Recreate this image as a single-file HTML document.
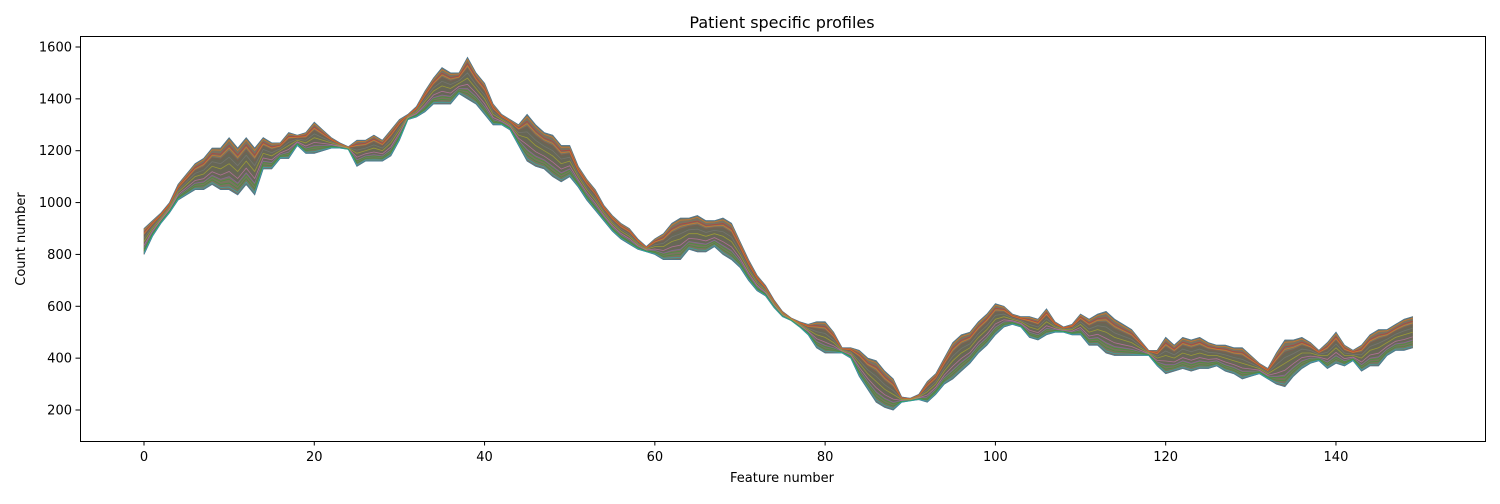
<!DOCTYPE html>
<html><head><meta charset="utf-8"><style>
body{margin:0;background:#fff;font-family:"DejaVu Sans","Liberation Sans",sans-serif}
svg text{font-family:"DejaVu Sans","Liberation Sans",sans-serif;fill:#000}
</style></head><body>
<svg id="chart" width="1500" height="500" viewBox="0 0 1500 500">
<text x="782" y="28" font-size="16" text-anchor="middle">Patient specific profiles</text>
<g id="marks"></g>
<rect x="80.5" y="36.5" width="1405" height="405" fill="none" stroke="#000" stroke-width="1"/>
<g id="xt"></g>
<g id="yt"></g>
<text x="782" y="482" font-size="13" text-anchor="middle">Feature number</text>
<text x="25" y="239" font-size="13" text-anchor="middle" transform="rotate(-90 25 239)">Count number</text>
</svg>
<script>
const meanValues=[850,900,940,980,1040,1070,1100,1110,1140,1130,1150,1120,1160,1120,1190,1180,1200,1220,1240,1230,1250,1240,1230,1220,1210,1190,1200,1210,1200,1230,1280,1330,1350,1390,1430,1450,1440,1460,1480,1440,1400,1340,1320,1300,1260,1250,1220,1200,1180,1150,1160,1100,1050,1010,960,920,890,870,840,820,830,830,850,860,880,880,870,880,870,850,800,740,690,660,610,570,550,530,510,490,480,460,430,420,380,340,310,280,260,240,240,250,270,300,350,390,420,440,480,510,550,560,550,540,520,510,540,520,510,510,530,500,510,500,480,470,460,440,420,400,410,400,420,410,420,410,410,400,390,380,370,360,340,360,380,400,420,420,410,410,440,410,410,400,430,440,460,480,490,500];
const spreadValues=[50,30,20,20,30,40,50,60,70,80,100,90,90,90,60,50,30,50,20,40,60,40,20,10,5,50,40,50,40,50,40,10,20,40,50,70,60,40,80,60,60,40,20,20,40,90,80,70,80,70,60,40,40,40,30,30,30,30,20,10,30,50,70,80,60,70,60,50,70,70,50,40,30,20,15,10,5,10,20,50,60,40,10,20,50,60,80,70,60,10,5,10,40,40,50,70,70,60,60,60,60,40,20,20,40,40,50,20,10,20,40,50,60,80,70,60,50,30,10,30,70,50,60,60,60,50,40,50,50,60,40,20,20,60,90,70,60,40,20,50,60,40,20,50,60,70,50,50,60,60];
const xTicks=[0,20,40,60,80,100,120,140];
const yTicks=[200,400,600,800,1000,1200,1400,1600];
const lineOffsets=[-1,0.9,-0.75,0.7,-0.5,0.45,-0.3,0.25,0,-0.9,1,0.6,-0.6];
const colors=["#1f77b4","#ff7f0e","#2ca02c","#d62728","#9467bd","#8c564b","#e377c2","#7f7f7f","#bcbd22","#17becf"];
const X=i=>144+i*8.514, Y=v=>410-(v-200)*0.25929;
const NS="http://www.w3.org/2000/svg";
const g=document.getElementById('marks');
function pathFor(k){return meanValues.map((m,i)=>(i?'L':'M')+X(i).toFixed(1)+','+Y(m+k*spreadValues[i]).toFixed(1)).join('');}
let up=meanValues.map((m,i)=>X(i).toFixed(1)+','+Y(m+spreadValues[i]).toFixed(1));
let lo=meanValues.map((m,i)=>X(i).toFixed(1)+','+Y(m-spreadValues[i]).toFixed(1)).reverse();
const band=document.createElementNS(NS,'polygon');


band.setAttribute('points',up.concat(lo).join(' '));
band.setAttribute('fill','#7a7360');band.setAttribute('stroke','#8a7a62');band.setAttribute('stroke-width','0.8');
g.appendChild(band);
const inner=document.createElementNS(NS,'path');


inner.setAttribute('d',meanValues.map((m,i)=>(i?'L':'M')+X(i).toFixed(1)+','+Y(m+0.5*spreadValues[i]).toFixed(1)).join('')+meanValues.map((m,i)=>i).reverse().map(i=>'L'+X(i).toFixed(1)+','+Y(meanValues[i]-0.5*spreadValues[i]).toFixed(1)).join('')+'Z');
inner.setAttribute('fill','#5f6352');inner.setAttribute('opacity','0.7');
g.appendChild(inner);
lineOffsets.forEach((k,j)=>{
  const p=document.createElementNS(NS,'path');
  
  
  p.setAttribute('d',pathFor(k));p.setAttribute('fill','none');
  p.setAttribute('stroke',colors[j%10]);p.setAttribute('stroke-width','0.8');p.setAttribute('opacity','0.6');
  g.appendChild(p);
});
const xt=document.getElementById('xt');
xTicks.forEach(t=>{
  const l=document.createElementNS(NS,'line');
  
  
  l.setAttribute('x1',X(t));l.setAttribute('x2',X(t));l.setAttribute('y1',441);l.setAttribute('y2',445.5);l.setAttribute('stroke','#000');
  xt.appendChild(l);
  const s=document.createElementNS(NS,'text');
  
  
  s.setAttribute('x',X(t));s.setAttribute('y',461);s.setAttribute('font-size','13');s.setAttribute('text-anchor','middle');
  s.textContent=t;xt.appendChild(s);
});
const yt=document.getElementById('yt');
yTicks.forEach(t=>{
  const l=document.createElementNS(NS,'line');
  
  
  l.setAttribute('x1',75.5);l.setAttribute('x2',80);l.setAttribute('y1',Y(t));l.setAttribute('y2',Y(t));l.setAttribute('stroke','#000');
  yt.appendChild(l);
  const s=document.createElementNS(NS,'text');
  
  
  s.setAttribute('x',72);s.setAttribute('y',Y(t)+4.5);s.setAttribute('font-size','13');s.setAttribute('text-anchor','end');
  s.textContent=t;yt.appendChild(s);
});
</script>
</body></html>
